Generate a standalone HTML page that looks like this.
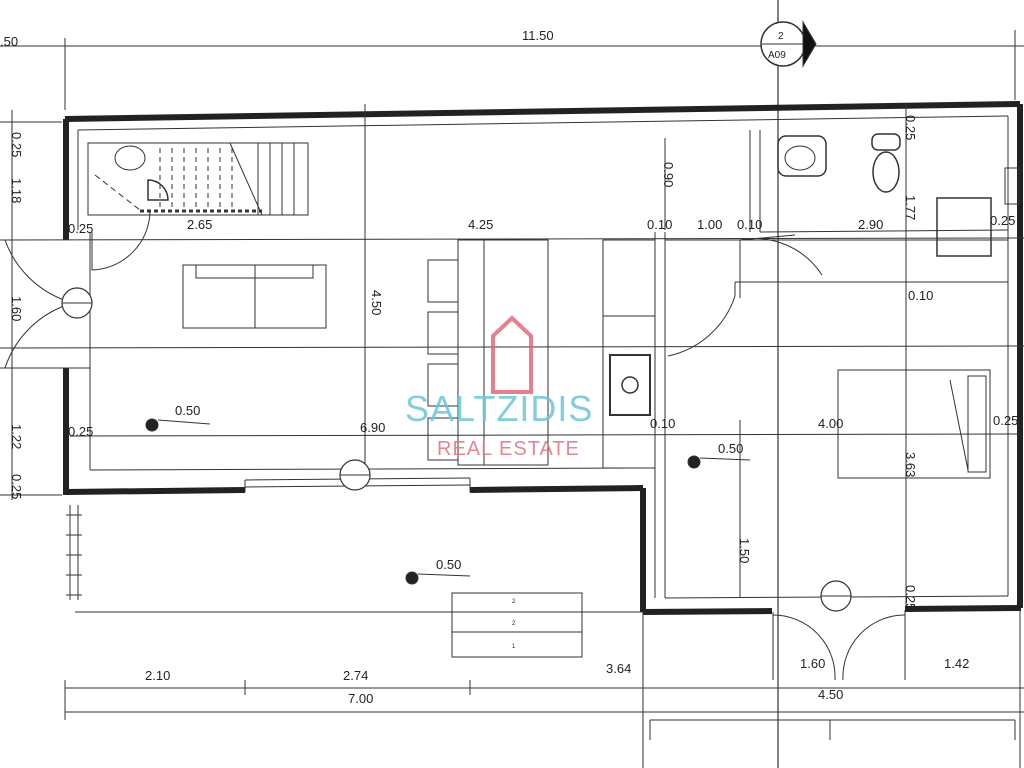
<!DOCTYPE html>
<html><head><meta charset="utf-8"><style>
html,body{margin:0;padding:0;background:#fff;width:1024px;height:768px;overflow:hidden}
svg{display:block}
text{font-family:"Liberation Sans",sans-serif;fill:#222}
</style></head><body>
<svg width="1024" height="768" viewBox="0 0 1024 768" stroke="#333" fill="none" font-size="13">
<line x1="0" y1="46" x2="1024" y2="46" stroke-width="1"/>
<line x1="65" y1="38" x2="65" y2="110" stroke-width="1"/>
<line x1="1015" y1="30" x2="1015" y2="100" stroke-width="1"/>
<text x="0" y="46" stroke="none">.50</text>
<text x="522" y="40" stroke="none">11.50</text>
<line x1="778" y1="0" x2="778" y2="768" stroke-width="1.2"/>
<circle cx="783" cy="44" r="22" stroke-width="1.5" fill="#fff"/>
<line x1="762" y1="44" x2="805" y2="44"/>
<polygon points="803,22 816,44 803,66" fill="#111"/>
<text x="778" y="39" stroke="none" font-size="10">2</text>
<text x="768" y="58" stroke="none" font-size="10">A09</text>
<g stroke="#222" stroke-width="6">
<line x1="65" y1="119" x2="1020" y2="104"/>
<line x1="66" y1="119" x2="66" y2="240"/>
<line x1="66" y1="368" x2="66" y2="495"/>
<line x1="66" y1="492" x2="245" y2="490"/>
<line x1="470" y1="490" x2="643" y2="488"/>
<line x1="643" y1="488" x2="643" y2="612"/>
<line x1="643" y1="612" x2="772" y2="611"/>
<line x1="905" y1="609" x2="1021" y2="608"/>
<line x1="1020" y1="104" x2="1020" y2="608"/>
</g>
<line x1="245" y1="480" x2="470" y2="478" stroke-width="1"/>
<line x1="245" y1="487" x2="470" y2="485" stroke-width="1"/>
<line x1="245" y1="480" x2="245" y2="492"/><line x1="470" y1="478" x2="470" y2="492"/>
<g stroke-width="1">
<line x1="78" y1="130" x2="1008" y2="116"/>
<line x1="78" y1="130" x2="78" y2="230"/>
<line x1="90" y1="232" x2="90" y2="470"/>
<line x1="90" y1="470" x2="640" y2="468"/>
<line x1="655" y1="232" x2="655" y2="598"/>
<line x1="665" y1="232" x2="665" y2="598"/>
<line x1="665" y1="598" x2="1008" y2="596"/>
<line x1="1008" y1="116" x2="1008" y2="596"/>
<line x1="750" y1="130" x2="750" y2="232"/>
<line x1="760" y1="130" x2="760" y2="232"/>
<line x1="760" y1="232" x2="1008" y2="230"/>
<line x1="665" y1="240" x2="1008" y2="240"/>
<line x1="735" y1="282" x2="1008" y2="282"/>
<line x1="735" y1="282" x2="735" y2="296"/>
<line x1="906" y1="104" x2="906" y2="610"/>
<line x1="0" y1="240" x2="1024" y2="238"/>
<line x1="0" y1="348" x2="1024" y2="346"/>
<line x1="0" y1="368" x2="90" y2="368"/>
<line x1="70" y1="436" x2="1020" y2="434"/>
<line x1="365" y1="104" x2="365" y2="470"/>
<line x1="12" y1="110" x2="12" y2="500"/>
<line x1="0" y1="122" x2="62" y2="122"/>
<line x1="0" y1="495" x2="62" y2="495"/>
<line x1="75" y1="612" x2="643" y2="612"/>
<line x1="665" y1="138" x2="665" y2="230"/>
<line x1="740" y1="420" x2="740" y2="598"/>
</g>
<rect x="88" y="143" width="220" height="72" stroke-width="1"/>
<g stroke-width="1">
<line x1="160" y1="148" x2="160" y2="210" stroke-dasharray="5,4"/>
<line x1="172" y1="148" x2="172" y2="210" stroke-dasharray="5,4"/>
<line x1="184" y1="148" x2="184" y2="210" stroke-dasharray="5,4"/>
<line x1="196" y1="148" x2="196" y2="210" stroke-dasharray="5,4"/>
<line x1="208" y1="148" x2="208" y2="210" stroke-dasharray="5,4"/>
<line x1="220" y1="148" x2="220" y2="210" stroke-dasharray="5,4"/>
<line x1="232" y1="148" x2="232" y2="210" stroke-dasharray="5,4"/>
<line x1="258" y1="143" x2="258" y2="215"/>
<line x1="270" y1="143" x2="270" y2="215"/>
<line x1="282" y1="143" x2="282" y2="215"/>
<line x1="294" y1="143" x2="294" y2="215"/>
<line x1="230" y1="143" x2="262" y2="215"/>
<line x1="140" y1="211" x2="262" y2="211" stroke-width="3" stroke-dasharray="4,3"/>
<line x1="95" y1="175" x2="140" y2="210" stroke-dasharray="6,4"/>
</g>
<ellipse cx="130" cy="158" rx="15" ry="12" stroke-width="1"/>
<path d="M148 200 L148 180 A20 20 0 0 1 168 200 Z" stroke-width="1.5"/>
<g stroke-width="1">
<path d="M92 232 L92 270 A60 60 0 0 0 150 212"/>
<path d="M5 240 A100 100 0 0 0 64 300"/>
<path d="M5 368 A100 100 0 0 1 64 306"/>
<path d="M795 235 L740 240 L740 298" />
<path d="M740 240 A80 80 0 0 1 822 275"/>
<path d="M668 356 A90 90 0 0 0 735 296"/>
<path d="M773 612 L773 680 M905 610 L905 680"/>
<path d="M773 615 A62 62 0 0 1 835 680 M905 615 A62 62 0 0 0 843 680"/>
</g>
<rect x="183" y="265" width="143" height="63" stroke-width="1"/>
<rect x="196" y="265" width="117" height="13" stroke-width="1"/>
<line x1="255" y1="265" x2="255" y2="328" stroke-width="1"/>
<rect x="458" y="240" width="90" height="225" stroke-width="1"/>
<line x1="484" y1="240" x2="484" y2="465" stroke-width="1"/>
<rect x="428" y="260" width="30" height="42" stroke-width="1"/>
<rect x="428" y="312" width="30" height="42" stroke-width="1"/>
<rect x="428" y="364" width="30" height="42" stroke-width="1"/>
<rect x="428" y="418" width="30" height="42" stroke-width="1"/>
<rect x="603" y="240" width="52" height="228" stroke-width="1"/>
<line x1="603" y1="316" x2="655" y2="316" stroke-width="1"/>
<rect x="610" y="355" width="40" height="60" stroke-width="2"/>
<circle cx="630" cy="385" r="8" stroke-width="1.5"/>
<rect x="778" y="136" width="48" height="40" rx="8" stroke-width="1.5"/>
<ellipse cx="800" cy="158" rx="15" ry="12" stroke-width="1"/>
<ellipse cx="886" cy="172" rx="13" ry="20" stroke-width="1.5"/>
<rect x="872" y="134" width="28" height="16" rx="6" stroke-width="1.5"/>
<rect x="937" y="198" width="54" height="58" stroke-width="1.5"/>
<rect x="1005" y="168" width="14" height="36" stroke-width="1"/>
<rect x="838" y="370" width="152" height="108" stroke-width="1"/>
<rect x="968" y="376" width="18" height="96" stroke-width="1"/>
<line x1="950" y1="380" x2="968" y2="470" stroke-width="1"/>
<rect x="452" y="593" width="130" height="64" stroke-width="1"/>
<line x1="452" y1="612" x2="582" y2="612" stroke-width="1"/>
<line x1="452" y1="632" x2="582" y2="632" stroke-width="1"/>
<text x="512" y="603" font-size="6" stroke="none">2</text>
<text x="512" y="625" font-size="6" stroke="none">2</text>
<text x="512" y="648" font-size="6" stroke="none">1</text>
<g stroke-width="1">
<line x1="70" y1="505" x2="70" y2="600"/><line x1="78" y1="505" x2="78" y2="600"/>
<line x1="66" y1="515" x2="82" y2="515"/><line x1="66" y1="535" x2="82" y2="535"/><line x1="66" y1="555" x2="82" y2="555"/><line x1="66" y1="575" x2="82" y2="575"/><line x1="66" y1="595" x2="82" y2="595"/>
</g>
<g stroke-width="1">
<line x1="65" y1="688" x2="1024" y2="688"/>
<line x1="65" y1="712" x2="1024" y2="712"/>
<line x1="65" y1="680" x2="65" y2="720"/>
<line x1="245" y1="680" x2="245" y2="695"/>
<line x1="470" y1="680" x2="470" y2="695"/>
<line x1="643" y1="612" x2="643" y2="768"/>
<line x1="1020" y1="610" x2="1020" y2="768"/>
<line x1="650" y1="720" x2="1015" y2="720"/>
<line x1="650" y1="720" x2="650" y2="740"/><line x1="830" y1="720" x2="830" y2="740"/><line x1="1015" y1="720" x2="1015" y2="740"/>
</g>
<g stroke="none">
<text x="145" y="680">2.10</text><text x="343" y="680">2.74</text><text x="606" y="673">3.64</text>
<text x="800" y="668">1.60</text><text x="944" y="668">1.42</text>
<text x="348" y="703">7.00</text><text x="818" y="699">4.50</text>
<text x="68" y="233">0.25</text><text x="187" y="229">2.65</text><text x="468" y="229">4.25</text>
<text x="647" y="229">0.10</text><text x="697" y="229">1.00</text><text x="737" y="229">0.10</text><text x="858" y="229">2.90</text>
<text x="990" y="225">0.25</text><text x="908" y="300">0.10</text>
<text x="68" y="436">0.25</text><text x="360" y="432">6.90</text><text x="650" y="428">0.10</text><text x="818" y="428">4.00</text><text x="993" y="425">0.25</text>
<text x="175" y="415">0.50</text><text x="718" y="453">0.50</text><text x="436" y="569">0.50</text>
</g>
<g stroke="none">
<text transform="translate(12,132) rotate(90)">0.25</text>
<text transform="translate(12,178) rotate(90)">1.18</text>
<text transform="translate(12,296) rotate(90)">1.60</text>
<text transform="translate(12,424) rotate(90)">1.22</text>
<text transform="translate(12,474) rotate(90)">0.25</text>
<text transform="translate(372,290) rotate(90)">4.50</text>
<text transform="translate(664,162) rotate(90)">0.90</text>
<text transform="translate(906,115) rotate(90)">0.25</text>
<text transform="translate(906,195) rotate(90)">1.77</text>
<text transform="translate(906,452) rotate(90)">3.63</text>
<text transform="translate(906,585) rotate(90)">0.25</text>
<text transform="translate(740,538) rotate(90)">1.50</text>
</g>
<g>
<circle cx="77" cy="303" r="15" stroke-width="1.2" fill="#fff"/><line x1="62" y1="303" x2="92" y2="303"/>
<circle cx="355" cy="475" r="15" stroke-width="1.2" fill="#fff"/><line x1="340" y1="475" x2="370" y2="475"/>
<circle cx="836" cy="596" r="15" stroke-width="1.2" fill="#fff"/><line x1="821" y1="596" x2="851" y2="596"/>
<circle cx="152" cy="425" r="6" fill="#222"/><line x1="158" y1="420" x2="210" y2="424"/>
<circle cx="694" cy="462" r="6" fill="#222"/><line x1="700" y1="458" x2="750" y2="460"/>
<circle cx="412" cy="578" r="6" fill="#222"/><line x1="418" y1="574" x2="470" y2="576"/>
</g>
<path d="M493 336 L512 318 L531 336 L531 392 L493 392 Z" stroke="#e06070" stroke-width="4" opacity="0.8"/>
<text x="405" y="421" stroke="none" style="font-size:36px;fill:#6cc6d8;opacity:0.85;letter-spacing:1px">SALTZIDIS</text>
<text x="437" y="455" stroke="none" style="font-size:20px;fill:#e07080;opacity:0.85;letter-spacing:1px">REAL ESTATE</text>
</svg>
</body></html>
